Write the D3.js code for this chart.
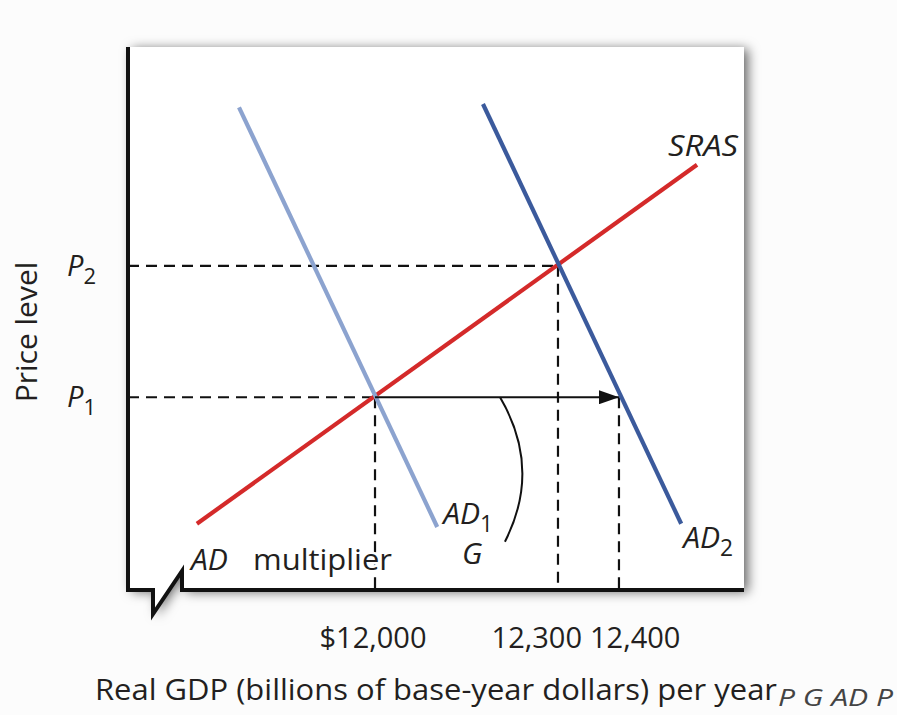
<!DOCTYPE html>
<html>
<head>
<meta charset="utf-8">
<script src="https://cdn.jsdelivr.net/npm/d3@7"></script>
<style>
  html, body { margin: 0; padding: 0; background: #fcfcfc; }
  svg { display: block; }
  text { font-family: "Open Sans", "Noto Sans", sans-serif; fill: #231f20; }
</style>
</head>
<body>
<div id="chart"></div>
<script>
// ---- data (GDP in billions of base-year dollars, price level as an index) ----
const gdpTicks = [12000, 12300, 12400];
const gdpTickLabels = ["$12,000", "12,300", "12,400"];
const priceLevels = [35.5, 59.7];          // P1, P2
const priceLabelSubs = ["1", "2"];
const priceGdp = [12000, 12300];          // equilibrium GDP at P1, P2
const shiftedGdp = [12400];               // AD2 at P1
const srasX = [11708, 12528];
const srasY = [12.2, 78.3];
const ad1X = [11777, 12102];
const ad1Y = [88.9, 11.6];
const ad2X = [12177, 12502];
const ad2Y = [89.5, 12.2];
const arcGdp = [12205, 12274, 12213];     // bracket start, bulge control, end
const arcPrice = [35.5, 22.3, 8.9];

const W = 897, H = 715;
const x = d3.scaleLinear().domain([11595, 12605]).range([128, 744]);
const y = d3.scaleLinear().domain([0, 100]).range([590, 47]);

const svg = d3.select("#chart").append("svg").attr("width", W).attr("height", H);
const defs = svg.append("defs");
const f = defs.append("filter").attr("id", "shadow")
  .attr("x", "-10%").attr("y", "-10%").attr("width", "125%").attr("height", "125%");
f.append("feDropShadow").attr("dx", 4).attr("dy", 2).attr("stdDeviation", 6)
  .attr("flood-color", "#000").attr("flood-opacity", 0.6);
defs.append("marker").attr("id", "arrow").attr("viewBox", "0 0 20 14")
  .attr("refX", 20).attr("refY", 7).attr("markerWidth", 20).attr("markerHeight", 14)
  .attr("markerUnits", "userSpaceOnUse").attr("orient", "auto")
  .append("path").attr("d", "M0,0 L20,7 L0,14 Z").attr("fill", "#111");

const [x0, x1] = x.range();
const [yb, yt] = y.range();

// panel with speech-bubble tail
const panelPath = `M${x0},${yt} L${x1},${yt} L${x1},${yb} L182,${yb} L182,571 L153,614 L153,${yb} L${x0},${yb} Z`;
svg.append("path").attr("d", panelPath).attr("fill", "#fff").attr("filter", "url(#shadow)");
svg.append("path").attr("d", panelPath).attr("fill", "#fff");

const line = d3.line().x(d => x(d[0])).y(d => y(d[1]));

// dashed guides
const dash = svg.append("g").attr("stroke", "#111").attr("stroke-width", 2.2)
  .attr("stroke-dasharray", "11,7").attr("fill", "none");
priceLevels.forEach((p, i) => {
  dash.append("path").attr("d", line([[x.domain()[0], p], [priceGdp[i], p]]));
  dash.append("path").attr("d", line([[priceGdp[i], p], [priceGdp[i], 0]]));
});
shiftedGdp.forEach(g => {
  dash.append("path").attr("d", line([[g, priceLevels[0]], [g, 0]]));
});

// curves
svg.append("path").attr("d", line(srasX.map((v, i) => [v, srasY[i]])))
  .attr("stroke", "#d42a2a").attr("stroke-width", 4.2).attr("fill", "none");
svg.append("path").attr("d", line(ad1X.map((v, i) => [v, ad1Y[i]])))
  .attr("stroke", "#8ca3cf").attr("stroke-width", 4.2).attr("fill", "none");
svg.append("path").attr("d", line(ad2X.map((v, i) => [v, ad2Y[i]])))
  .attr("stroke", "#3b5a9c").attr("stroke-width", 4.2).attr("fill", "none");

// shift arrow
svg.append("path").attr("d", line([[priceGdp[0], priceLevels[0]], [shiftedGdp[0], priceLevels[0]]]))
  .attr("stroke", "#111").attr("stroke-width", 2).attr("fill", "none")
  .attr("marker-end", "url(#arrow)");

// bracket arc
const ap = d3.path();
ap.moveTo(x(arcGdp[0]), y(arcPrice[0]));
ap.quadraticCurveTo(x(arcGdp[1]), y(arcPrice[1]), x(arcGdp[2]), y(arcPrice[2]));
svg.append("path").attr("d", ap.toString()).attr("stroke", "#111")
  .attr("stroke-width", 2).attr("fill", "none");

// axes outline (left and bottom with tail)
svg.append("path")
  .attr("d", `M${x0},${yt} L${x0},${yb} L153,${yb} L153,614 L182,571 L182,${yb} L${x1},${yb}`)
  .attr("stroke", "#111").attr("stroke-width", 4).attr("fill", "none")
  .attr("stroke-linejoin", "miter");

// labels
function subLabel(px, py, main, sub, size) {
  const t = svg.append("text").attr("x", px).attr("y", py)
    .attr("font-size", size).attr("font-style", "italic");
  t.append("tspan").text(main);
  t.append("tspan").attr("font-style", "normal").attr("font-size", size * 0.76)
    .attr("dy", 8).text(sub);
  return t;
}
priceLevels.forEach((p, i) => {
  subLabel(67, y(p) + 10, "P", priceLabelSubs[i], 29);
});
svg.append("text").attr("x", x(srasX[1]) - 29).attr("y", y(srasY[1]) - 9)
  .attr("font-size", 30).attr("font-style", "italic")
  .attr("textLength", 70).attr("lengthAdjust", "spacingAndGlyphs").text("SRAS");
subLabel(x(ad1X[1]) + 6, y(ad1Y[1]) - 3, "AD", "1", 30);
subLabel(x(ad2X[1]) + 2, y(ad2Y[1]) + 24, "AD", "2", 30);
svg.append("text").attr("x", 462).attr("y", 564).attr("font-size", 30)
  .attr("font-style", "italic").text("G");
const am = svg.append("text").attr("x", 191).attr("y", 570).attr("font-size", 30)
  .attr("stroke", "#fff").attr("stroke-width", 5).attr("paint-order", "stroke")
  .attr("stroke-linejoin", "round");
am.append("tspan").attr("font-style", "italic").text("AD");
am.append("tspan").attr("x", 253).attr("textLength", 139)
  .attr("lengthAdjust", "spacingAndGlyphs").text("multiplier");

// x tick labels
const anchors = ["middle", "end", "start"];
const nudges = [-2, 24, -29];
gdpTicks.forEach((g, i) => {
  svg.append("text").attr("x", x(g) + nudges[i]).attr("y", 648)
    .attr("text-anchor", anchors[i]).attr("font-size", 29).text(gdpTickLabels[i]);
});

// axis titles
svg.append("text").attr("x", 95).attr("y", 700).attr("font-size", 29)
  .attr("textLength", 682).attr("lengthAdjust", "spacingAndGlyphs")
  .text("Real GDP (billions of base-year dollars) per year");
svg.append("text").attr("transform", "translate(37,332) rotate(-90)")
  .attr("text-anchor", "middle").attr("font-size", 30).text("Price level");
svg.append("text").attr("x", 778).attr("y", 706).attr("font-size", 23)
  .attr("font-style", "italic").style("fill", "#444")
  .attr("textLength", 115).attr("lengthAdjust", "spacingAndGlyphs")
  .text("P G AD P");
</script>
</body>
</html>
